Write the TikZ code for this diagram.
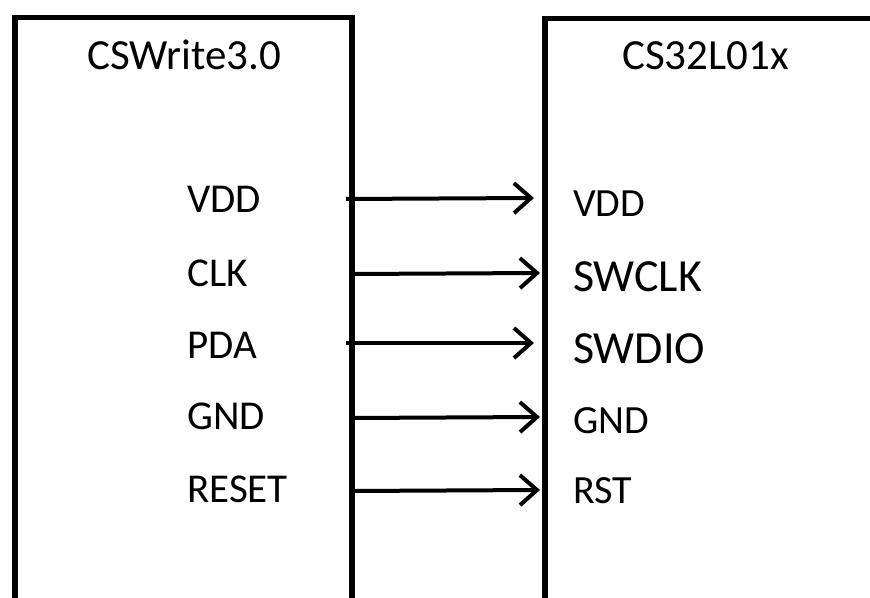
\documentclass[tikz,border=0pt]{standalone}
\usepackage{fontspec}
\setmainfont{Carlito}
\usetikzlibrary{arrows.meta}
\begin{document}
\begin{tikzpicture}[x=1pt,y=1pt,
  box/.style={draw=black,line width=5.5pt,fill=none},
  lbl/.style={anchor=base west,inner sep=0pt,font=\fontsize{41}{45}\selectfont},
  rlbl/.style={anchor=base west,inner sep=0pt,font=\fontsize{40}{44}\selectfont},
  blbl/.style={anchor=base west,inner sep=0pt,font=\fontsize{46}{50}\selectfont},
  ttl/.style={anchor=base west,inner sep=0pt,font=\fontsize{43}{47}\selectfont},
  wire/.style={line width=4pt,-{Straight Barb[length=17pt,width=30pt,line width=4pt]}}]
\useasboundingbox (0,0) rectangle (870,597);
\clip (0,0) rectangle (870,597);
% boxes (cut off by the frame)
\node[box,anchor=north west,minimum width=337pt,minimum height=640pt,inner sep=0pt] (L) at (12,582) {};
\node[box,anchor=north west,minimum width=400pt,minimum height=640pt,inner sep=0pt] (R) at (542,581) {};
% titles
\node[ttl] (tL) at (87,527) {CSWrite3.0};
\node[ttl] (tR) at (622,527) {CS32L01x};
% left labels
\node[lbl] (l1) at (187,384) {VDD};
\node[lbl] (l2) at (187,310) {CLK};
\node[lbl] (l3) at (187,238) {PDA};
\node[lbl] (l4) at (187,167) {GND};
\node[lbl] (l5) at (187,94) {RESET};
% right labels
\node[rlbl] (r1) at (573,380) {VDD};
\node[blbl] (r2) at (573,305) {SWCLK};
\node[blbl] (r3) at (573,233) {SWDIO};
\node[rlbl] (r4) at (573,163) {GND};
\node[rlbl] (r5) at (573,93) {RST};
% wire end points on the box edges
\coordinate (a1) at (346,398);
\coordinate (b1) at (534,399);
\coordinate (a2) at (353,323);
\coordinate (b2) at (540,324);
\coordinate (a3) at (346,254);
\coordinate (b3) at (534,254);
\coordinate (a4) at (353,179);
\coordinate (b4) at (540,180);
\coordinate (a5) at (353,106);
\coordinate (b5) at (540,107);
\draw[wire] (a1) -- (b1);
\draw[wire] (a2) -- (b2);
\draw[wire] (a3) -- (b3);
\draw[wire] (a4) -- (b4);
\draw[wire] (a5) -- (b5);
\end{tikzpicture}
\end{document}
